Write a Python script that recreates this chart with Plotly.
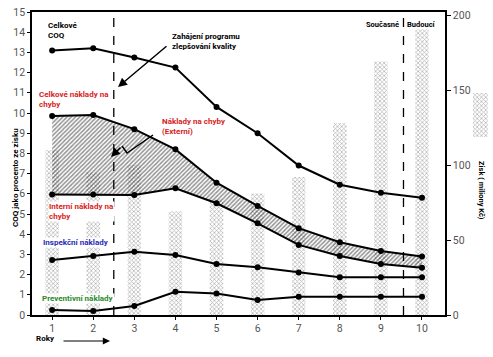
import plotly.graph_objects as go

# ---------------- data ----------------
years = [1, 2, 3, 4, 5, 6, 7, 8, 9, 10]
total_coq = [13.1, 13.2, 12.75, 12.25, 10.3, 9.0, 7.4, 6.45, 6.05, 5.8]
failure_total = [9.85, 9.9, 9.2, 8.2, 6.55, 5.4, 4.3, 3.6, 3.17, 2.9]
internal_failure = [5.97, 5.97, 5.94, 6.27, 5.53, 4.54, 3.47, 2.92, 2.52, 2.34]
inspection = [2.72, 2.92, 3.13, 2.97, 2.52, 2.36, 2.1, 1.87, 1.87, 1.87]
prevention = [0.25, 0.2, 0.45, 1.15, 1.07, 0.74, 0.9, 0.9, 0.9, 0.9]
profit = [110, 95, 100, 69, 77, 81, 92, 128, 169, 191]
left_ticks = list(range(0, 16))
right_ticks = [0, 50, 100, 150, 200]
marker_years = [2.5, 9.55]
swatch = [1]

# ---------------- geometry helpers ----------------
WIDTH, HEIGHT = 493, 357
L, R, T, B = 32, 0, 12, 42
W = WIDTH - L - R
H = HEIGHT - T - B


def px(x):
    return (x - L) / W


def py(y):
    return 1 - (y - T) / H


FONT = "Roboto, Liberation Sans, sans-serif"
RED = "#d8231c"
BLUE = "#2b2bb5"
GREEN = "#2a8a2a"

bar_pattern = dict(shape="x", fgcolor="#5c5c5c", bgcolor="rgba(255,255,255,0)",
                   size=3, solidity=0.4)

fig = go.Figure()

# profit bars (right axis, drawn underneath)
fig.add_trace(go.Bar(
    x=years, y=profit, width=0.33, xaxis="x", yaxis="y",
    marker=dict(color="rgba(255,255,255,0)", line=dict(width=0), pattern=bar_pattern),
    showlegend=False, hoverinfo="skip"))

line_style = dict(color="black", width=2)
mk = dict(color="black", size=6, symbol="circle")

# internal failure (base of hatched region)
fig.add_trace(go.Scatter(x=years, y=internal_failure, mode="lines+markers",
                         line=line_style, marker=mk, xaxis="x", yaxis="y2",
                         showlegend=False))
# total failure, hatched down to internal
fig.add_trace(go.Scatter(x=years, y=failure_total, mode="lines+markers",
                         line=line_style, marker=mk, xaxis="x", yaxis="y2",
                         fill="tonexty", fillcolor="rgba(0,0,0,0)",
                         fillpattern=dict(shape="/", fgcolor="#262626",
                                          bgcolor="rgba(255,255,255,0)",
                                          size=3, solidity=0.5),
                         showlegend=False))
for series in (total_coq, inspection, prevention):
    fig.add_trace(go.Scatter(x=years, y=series, mode="lines+markers",
                             line=line_style, marker=mk, xaxis="x", yaxis="y2",
                             showlegend=False))

# swatch for profit bars at right
fig.add_trace(go.Bar(
    x=[0], y=swatch, width=1, xaxis="x3", yaxis="y3",
    marker=dict(color="rgba(255,255,255,0)", line=dict(width=0), pattern=bar_pattern),
    showlegend=False, hoverinfo="skip"))

main_right = px(445)
tickfont = dict(family=FONT, size=10.5, color="#555555")

fig.update_layout(
    width=WIDTH, height=HEIGHT,
    margin=dict(l=L, r=R, t=T, b=B),
    paper_bgcolor="white", plot_bgcolor="white",
    showlegend=False,
    xaxis=dict(domain=[0, main_right], range=[0.51, 10.56], tickvals=years,
               ticks="outside", ticklen=3, tickcolor="black",
               showline=True, linecolor="black", linewidth=1.5, mirror=True,
               showgrid=False, zeroline=False, tickfont=tickfont, anchor="y"),
    yaxis=dict(side="right", range=[0, 202], tickvals=right_ticks,
               ticks="outside", ticklen=4, tickcolor="black",
               showline=True, linecolor="black", linewidth=1.5,
               showgrid=False, zeroline=False, tickfont=tickfont, anchor="x"),
    yaxis2=dict(side="left", overlaying="y", range=[0, 15], tickvals=left_ticks,
                ticks="outside", ticklen=3, tickcolor="black",
                showline=True, linecolor="black", linewidth=1.5,
                showgrid=False, zeroline=False, tickfont=tickfont, anchor="x"),
    xaxis3=dict(domain=[px(473), px(488)], range=[-0.5, 0.5], visible=False,
                anchor="y3", fixedrange=True),
    yaxis3=dict(domain=[py(137), py(93)], range=[0, 1], visible=False,
                anchor="x3", fixedrange=True),
)

for xv in marker_years:
    fig.add_shape(type="line", xref="x", yref="paper", x0=xv, x1=xv, y0=0, y1=1,
                  line=dict(color="black", width=1.3, dash="dash"))


def label(text, x, y, color="black", size=8, bg=None, xanchor="left", align="left",
          angle=0):
    fig.add_annotation(text=text, xref="paper", yref="paper", x=px(x), y=py(y),
                       xanchor=xanchor, yanchor="middle", align=align,
                       showarrow=False, textangle=angle,
                       font=dict(family=FONT, size=size, color=color),
                       bgcolor=bg, borderpad=0)


label("<b>Celkové<br>COQ</b>", 47, 31)
label("<b>Zahájení programu<br>zlepšování kvality</b>", 171, 42)
label("<b>Celkové náklady na<br>chyby</b>", 38, 99, color=RED)
label("<b>Náklady na chyby<br>(Externí)</b>", 161, 126, color=RED)
label("<b>Interní náklady na<br>chyby</b>", 48, 211, color=RED, bg="white")
label("<b>Inspekční náklady</b>", 42, 242, color=BLUE, bg="white")
label("<b>Preventivní náklady</b>", 41, 298, color=GREEN, bg="white")
label("<b>Současné</b>", 400, 25, size=7.5, xanchor="right")
label("<b>Budoucí</b>", 406, 25, size=7.5, bg="white")
label("<b>Roky</b>", 35, 338, size=8)
label("<b>COQ jako procento ze zisku</b>", 15, 178, size=8, xanchor="center",
      align="center", angle=-90)
label("<b>Zisk ( miliony Kč)</b>", 482, 190, size=7.5, xanchor="center",
      align="center", angle=90)


# arrows (tail at x0,y0 ; head at x1,y1 ; in page pixels)
def arrow(x0, y0, x1, y1, width=1.5, head=2):
    fig.add_annotation(xref="paper", yref="paper", axref="pixel", ayref="pixel",
                       x=px(x1), y=py(y1), ax=x0 - x1, ay=y0 - y1, text="",
                       showarrow=True, arrowhead=head, arrowsize=1.2,
                       arrowwidth=width, arrowcolor="black")


arrow(168, 45, 118, 87)
arrow(62, 341, 110, 341, width=1.2)
# zig-zag arrow toward the dashed line
fig.add_shape(type="path", xref="paper", yref="paper",
              path=(f"M {px(153)} {py(135)} L {px(127)} {py(153)} "
                    f"L {px(122)} {py(146)}"),
              line=dict(color="black", width=1.5))
arrow(122, 146, 111, 157)

fig.write_html("out.html",
               config={"displayModeBar": False},
               post_script="document.body.style.margin='0';"
                           "document.body.style.overflow='hidden';")
